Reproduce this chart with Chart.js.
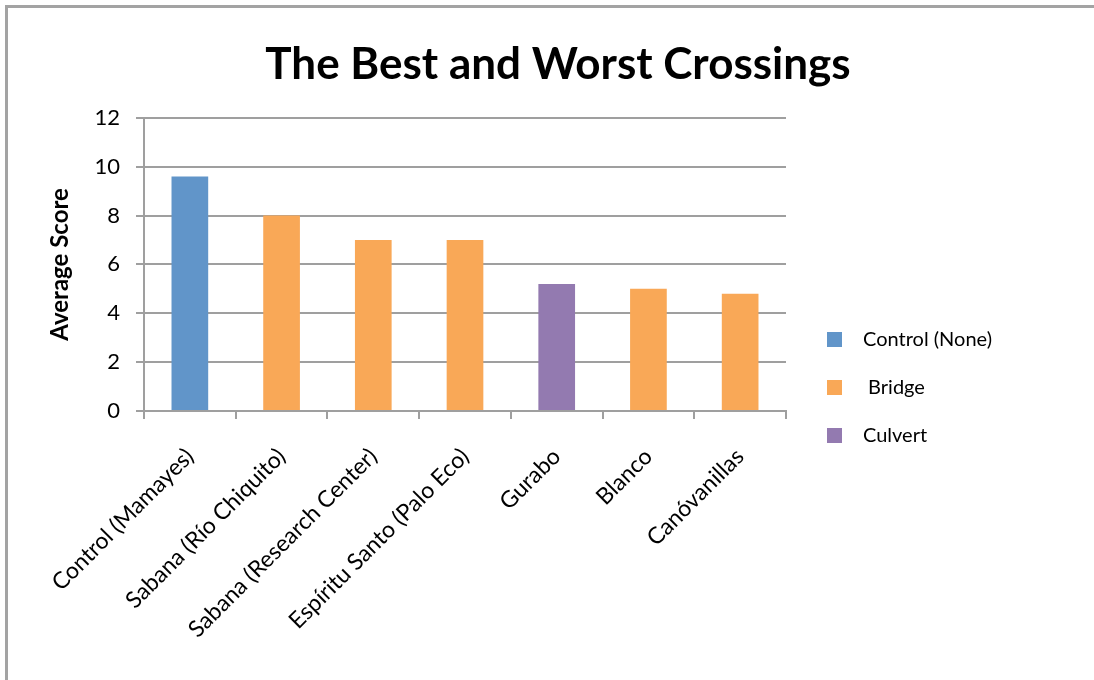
<!DOCTYPE html>
<html>
<head>
<meta charset="utf-8">
<script src="https://cdn.jsdelivr.net/npm/chart.js@4.4.0/dist/chart.umd.min.js"></script>
<style>
  html, body { margin: 0; padding: 0; background: #fff; overflow: hidden; width: 1094px; height: 680px; }
  #frame { position: absolute; left: 5px; top: 5px; width: 1200px; height: 800px;
           border-left: 3px solid #a3a3a3; border-top: 3px solid #a3a3a3; pointer-events: none; }
  #wrap { position: absolute; left: 0; top: 0; width: 1116px; height: 680px; }
</style>
</head>
<body>
<div id="wrap"><canvas id="c" width="1116" height="680"></canvas></div>
<div id="frame"></div>
<script>
const categories = [
  "Control (Mamayes)",
  "Sabana (Río Chiquito)",
  "Sabana (Research Center)",
  "Espíritu Santo (Palo Eco)",
  "Gurabo",
  "Blanco",
  "Canóvanillas"
];
const controlValues = [9.6, null, null, null, null, null, null];
const bridgeValues  = [null, 8.0, 7.0, 7.0, null, 5.0, 4.8];
const culvertValues = [null, null, null, null, 5.2, null, null];
const seriesNames = ["Control (None)", " Bridge", "Culvert"];
const yTicks = [0, 2, 4, 6, 8, 10, 12];

const COLORS = ["#6195C9", "#F9A857", "#937AB0"];
const GRID = "#9f9f9f";
const FONT = "Lato, 'Open Sans', sans-serif";
const LEGEND_LEFT = 786;

// legend swatch: transparent lead-in, then a 15x15 colour square
function swatch(color) {
  const c = document.createElement("canvas");
  c.width = 39; c.height = 15;
  const g = c.getContext("2d");
  g.fillStyle = color;
  g.fillRect(13, 0, 15, 15);
  return c;
}

const ctx = document.getElementById("c").getContext("2d");
new Chart(ctx, {
  type: "bar",
  data: {
    labels: categories,
    datasets: [
      { label: seriesNames[0], data: controlValues, backgroundColor: COLORS[0] },
      { label: seriesNames[1], data: bridgeValues, backgroundColor: COLORS[1] },
      { label: seriesNames[2], data: culvertValues, backgroundColor: COLORS[2] }
    ]
  },
  options: {
    responsive: false,
    animation: false,
    devicePixelRatio: 1,
    layout: { padding: 0 },
    datasets: { bar: { grouped: false, categoryPercentage: 1.0, barPercentage: 0.4 } },
    plugins: {
      tooltip: { enabled: false },
      title: {
        display: true,
        text: "The Best and Worst Crossings",
        color: "#000",
        font: { family: FONT, size: 44, weight: "bold" },
        padding: { top: 38, bottom: 27 }
      },
      legend: {
        display: true,
        position: "right",
        align: "center",
        maxWidth: 500,
        title: { display: true, text: " ", color: "rgba(0,0,0,0)", font: { size: 10 }, padding: { top: 83, bottom: 0 } },
        labels: {
          usePointStyle: true,
          pointStyleWidth: 39,
          boxHeight: 15,
          padding: 28,
          color: "#000",
          font: { family: FONT, size: 20 },
          generateLabels: (chart) => chart.data.datasets.map((ds, i) => ({
            text: ds.label,
            fillStyle: ds.backgroundColor,
            strokeStyle: ds.backgroundColor,
            lineWidth: 0,
            pointStyle: swatch(ds.backgroundColor),
            hidden: false,
            datasetIndex: i,
            fontColor: "#000"
          }))
        }
      }
    },
    scales: {
      x: {
        type: "category",
        offset: true,
        grid: { display: true, drawOnChartArea: false, drawTicks: true, tickLength: 8, color: GRID, lineWidth: 2, offset: true },
        border: { display: true, color: GRID, width: 2 },
        ticks: { autoSkip: false, minRotation: 45, maxRotation: 45, padding: 24, color: "#000", font: { family: FONT, size: 23 } },
        afterFit: (s) => { s.height = 269; }
      },
      y: {
        type: "linear",
        position: "left",
        min: 0, max: 12,
        afterBuildTicks: (s) => { s.ticks = yTicks.map(v => ({ value: v })); },
        grid: { color: GRID, lineWidth: 2, tickLength: 8, drawTicks: true },
        border: { display: true, color: GRID, width: 2 },
        ticks: { padding: 16, color: "#000", font: { family: FONT, size: 22 } },
        title: { display: true, text: "Average Score", color: "#000", font: { family: FONT, size: 24, weight: "bold" }, padding: { top: 46, bottom: 0 } },
        afterFit: (s) => { s.width = 144; }
      },
      outer: {
        type: "linear", position: "right", weight: 2000, display: true,
        grid: { display: false }, border: { display: false }, ticks: { display: false },
        afterFit: (s) => {
          const lw = (s.chart.legend && s.chart.legend.width) ? s.chart.legend.width : 250;
          s.width = Math.max(0, 1116 - LEGEND_LEFT - lw);
        }
      }
    }
  }
});
</script>
</body>
</html>
